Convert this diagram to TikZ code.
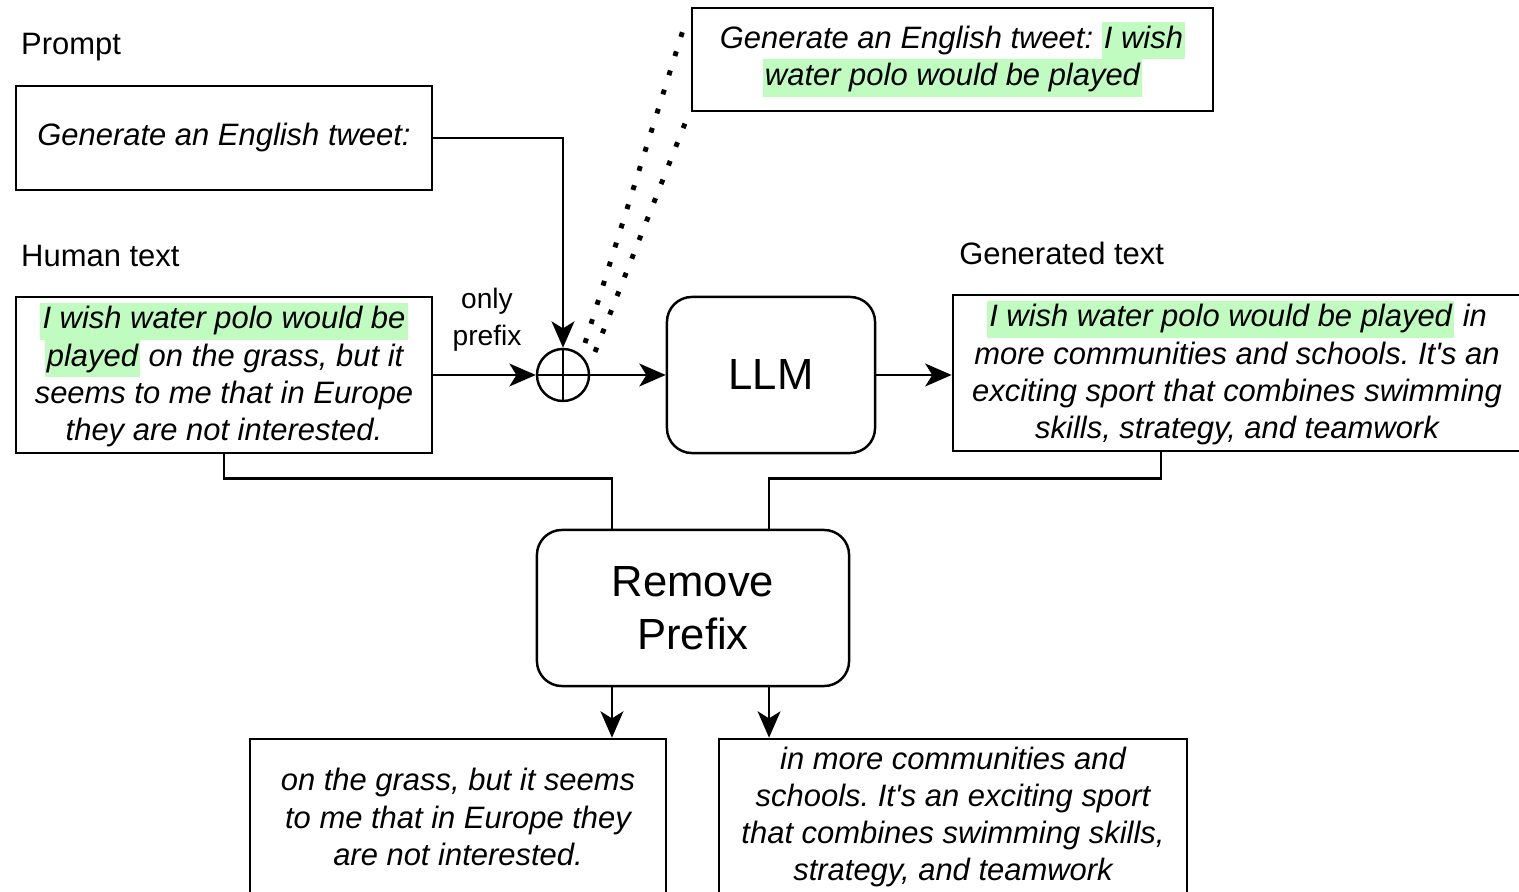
\documentclass[tikz,border=0pt]{standalone}
\usepackage{fontspec}
\setmainfont{Liberation Sans}
\usetikzlibrary{arrows.meta}
\definecolor{hlgreen}{RGB}{192,252,192}
\newcommand{\hlt}[1]{{\setlength{\fboxsep}{0pt}\colorbox{hlgreen}{\strut\kern0.6pt#1\kern0.6pt}}}

\begin{document}
\begin{tikzpicture}[x=0.01cm, y=-0.01cm, >={Stealth[length=7.5pt, width=6.5pt, inset=2pt]},
    line width=0.7pt,
    box/.style={draw, rectangle, align=center, inner sep=0pt,
        font=\fontsize{8.8}{10.6}\selectfont\itshape\frenchspacing},
    block/.style={draw, rounded corners=0.25cm, align=center, inner sep=0pt,
        font=\fontsize{12.4}{15}\selectfont},
    headtext/.style={inner sep=0pt, font=\fontsize{8.8}{10.6}\selectfont},
    dotline/.style={line width=1.4pt, dash pattern=on 1.4pt off 4.3pt}]
    \useasboundingbox (0,0) rectangle (1519,892);
    \clip (0,0) rectangle (1519,892);

    % inputs
    \node[headtext, anchor=base west] (prompthead) at (20,55) {Prompt};
    \node[box, minimum width=4.16cm, minimum height=1.04cm] (prompt) at (224,138)
        {Generate an English tweet:};
    \node[headtext, anchor=base west] (humanhead) at (20,267) {Human text};
    \node[box, minimum width=4.16cm, minimum height=1.56cm] (human) at (224,375)
        {\hlt{I wish water polo would be}\\ \hlt{played} on the grass, but it\\
         seems to me that in Europe\\ they are not interested.};

    % concatenation and model
    \node[circle, draw, minimum size=0.52cm, inner sep=0pt] (plus) at (563,375) {};
    \draw (plus.north) -- (plus.south) (plus.west) -- (plus.east);
    \node[align=center, inner sep=0pt, font=\fontsize{8}{10.6}\selectfont] (onlyprefix)
        at (487,320) {only\\prefix};
    \node[block, minimum width=2.08cm, minimum height=1.56cm] (llm) at (771,375) {LLM};
    \node[box, minimum width=5.21cm, minimum height=1.03cm] (top) at (952.5,59.5)
        {Generate an English tweet: \hlt{I wish}\\ \hlt{water polo would be played}};

    % output of the model
    \node[headtext, anchor=base west] (genhead) at (958,265) {Generated text};
    \node[box, minimum width=5.68cm, minimum height=1.56cm] (gen) at (1237,373)
        {\hlt{I wish water polo would be played} in\\
         more communities and schools. It\textquotesingle s an\\
         exciting sport that combines swimming\\ skills, strategy, and teamwork};

    % prefix removal
    \node[block, minimum width=3.12cm, minimum height=1.56cm] (remove) at (693,608)
        {Remove\\Prefix};
    \node[box, minimum width=4.16cm, minimum height=1.56cm] (out1) at (458,817)
        {on the grass, but it seems\\ to me that in Europe they\\ are not interested.};
    \node[box, minimum width=4.68cm, minimum height=1.56cm] (out2) at (953,817)
        {in more communities and\\ schools. It\textquotesingle s an exciting sport\\
         that combines swimming skills,\\ strategy, and teamwork};

    % connectors
    \draw[->] (prompt.east) -| (plus.north);
    \draw[->] (human.east) -- (plus.west);
    \draw[->] (plus.east) -- (llm.west);
    \draw[->] (llm.east) -- (llm.east -| gen.west);
    \draw[dotline] ([shift={(22,-32)}]plus.center) -- ([shift={(-5,15)}]top.north west);
    \draw[dotline] ([shift={(32,-23)}]plus.center) -- ([shift={(-4,7)}]top.south west);
    \draw (human.south) -- ++(0,24) -| ([xshift=-0.81cm]remove.north);
    \draw ([xshift=-0.76cm]gen.south) -- ++(0,26) -| ([xshift=0.76cm]remove.north);
    \draw[->] ([xshift=-0.81cm]remove.south) -- ([xshift=-0.81cm]remove.south |- out1.north);
    \draw[->] ([xshift=0.76cm]remove.south) -- ([xshift=0.76cm]remove.south |- out2.north);
\end{tikzpicture}
\end{document}
